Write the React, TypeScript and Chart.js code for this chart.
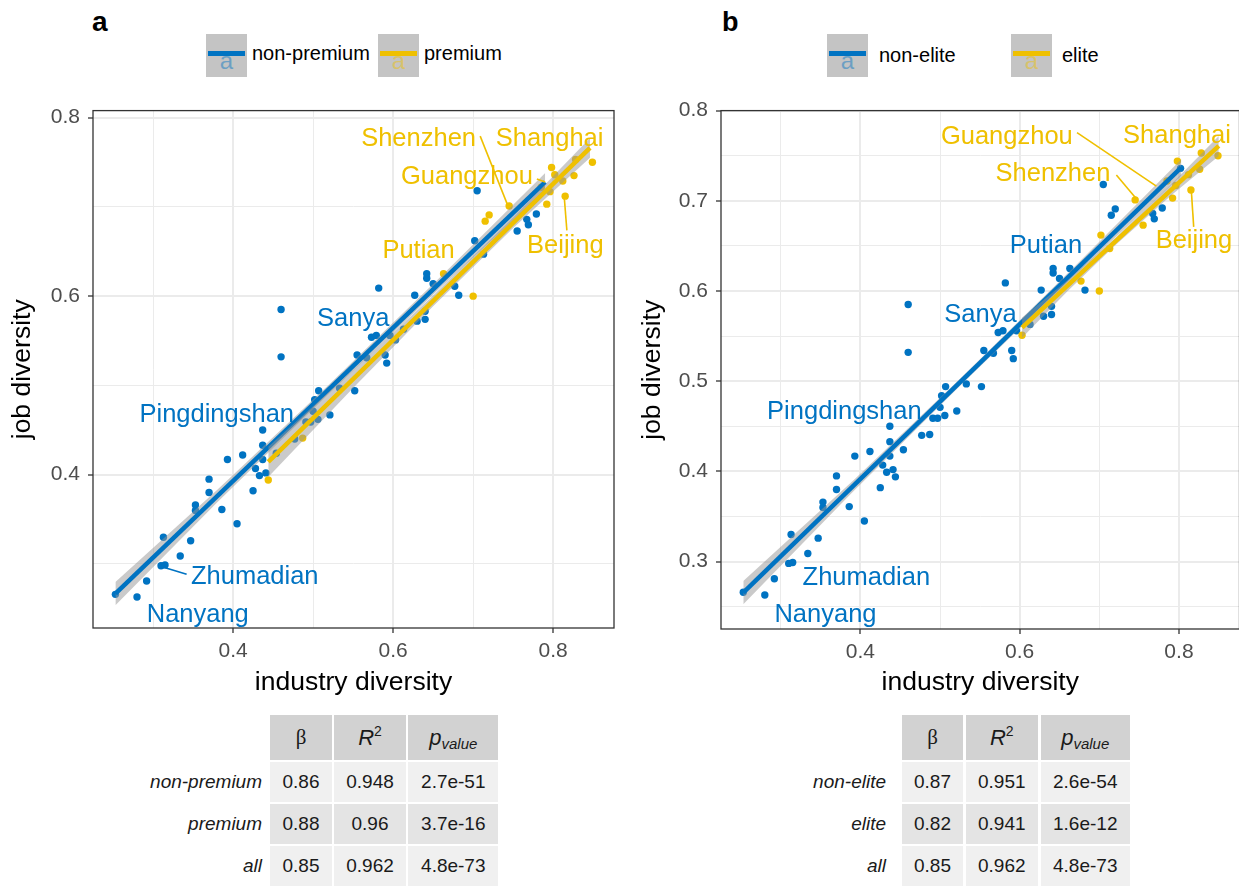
import React, { useEffect, useRef } from "react";
import { Chart, registerables } from "chart.js";

Chart.register(...registerables);

const FONT = '"Liberation Sans", Arial, Helvetica, sans-serif';
const BLUE = "#0073C2";
const YELLOW = "#EFC000";
const BAND = "rgba(150,150,150,0.5)";

// ---------------- data: one entry per city ----------------
const industryDiversity = [
  0.253, 0.280, 0.292, 0.313, 0.310, 0.315, 0.334, 0.347, 0.353, 0.353,
  0.370, 0.370, 0.386, 0.393, 0.405, 0.412, 0.425, 0.428, 0.433, 0.437,
  0.437, 0.437, 0.441, 0.444, 0.454, 0.477, 0.487, 0.491, 0.497, 0.506,
  0.500, 0.502, 0.507, 0.521, 0.533, 0.552, 0.460, 0.460, 0.555, 0.567,
  0.573, 0.579, 0.590, 0.592, 0.582, 0.596, 0.603, 0.613, 0.627, 0.630,
  0.640, 0.640, 0.642, 0.642, 0.650, 0.663, 0.677, 0.682, 0.700, 0.702,
  0.705, 0.713, 0.715, 0.720, 0.745, 0.755, 0.767, 0.769, 0.779, 0.792,
  0.798, 0.802, 0.815, 0.812, 0.826, 0.828, 0.849, 0.796, 0.785,
];
const jobDiversity = [
  0.266, 0.263, 0.281, 0.330, 0.298, 0.299, 0.309, 0.326, 0.366, 0.360,
  0.395, 0.380, 0.361, 0.417, 0.345, 0.422, 0.382, 0.407, 0.399, 0.450,
  0.433, 0.417, 0.402, 0.394, 0.424, 0.440, 0.441, 0.459, 0.459, 0.462,
  0.471, 0.484, 0.494, 0.467, 0.497, 0.494, 0.585, 0.532, 0.534, 0.531,
  0.554, 0.556, 0.534, 0.525, 0.609, 0.556, 0.551, 0.563, 0.601, 0.572,
  0.574, 0.583, 0.620, 0.625, 0.614, 0.625, 0.611, 0.601, 0.600, 0.662,
  0.718, 0.647, 0.684, 0.691, 0.701, 0.673, 0.686, 0.680, 0.692, 0.703,
  0.744, 0.736, 0.712, 0.729, 0.735, 0.753, 0.750, 0.717, 0.722,
];
const isPremium = [
  0, 0, 0, 0, 0, 0, 0, 0, 0, 0,
  0, 0, 0, 0, 0, 0, 0, 0, 0, 0,
  0, 0, 0, 1, 0, 0, 1, 0, 0, 0,
  0, 0, 0, 0, 0, 0, 0, 0, 0, 0,
  0, 0, 0, 0, 0, 0, 0, 0, 0, 0,
  0, 0, 0, 0, 0, 1, 0, 0, 1, 0,
  0, 0, 1, 1, 1, 0, 0, 0, 0, 1,
  1, 1, 1, 1, 1, 1, 1, 1, 1,
];
const isElite = [
  0, 0, 0, 0, 0, 0, 0, 0, 0, 0,
  0, 0, 0, 0, 0, 0, 0, 0, 0, 0,
  0, 0, 0, 0, 0, 0, 0, 0, 0, 0,
  0, 0, 0, 0, 0, 0, 0, 0, 0, 0,
  0, 0, 0, 0, 0, 0, 1, 0, 0, 0,
  0, 0, 0, 0, 0, 0, 1, 0, 1, 1,
  0, 1, 0, 0, 1, 1, 0, 0, 0, 1,
  1, 0, 1, 1, 1, 1, 1, 1, 1,
];

// ---------------- axes ----------------
const xTicksMajor = [0.4, 0.6, 0.8];
const xTicksMinor = [0.3, 0.5, 0.7];
const aYTicksMajor = [0.4, 0.6, 0.8];
const aYTicksMinor = [0.3, 0.5, 0.7];
const bYTicksMajor = [0.3, 0.4, 0.5, 0.6, 0.7, 0.8];
const bYTicksMinor = [0.25, 0.35, 0.45, 0.55, 0.65, 0.75];

// ---------------- fitted lines and confidence bands ----------------
const aBlueFitX = [0.253, 0.79];
const aBlueFitY = [0.2667, 0.7278];
const aBlueBandX = [0.253, 0.38, 0.52, 0.66, 0.79];
const aBlueBandLo = [0.2537, 0.3688, 0.491, 0.6102, 0.7178];
const aBlueBandHi = [0.2797, 0.3828, 0.501, 0.6222, 0.7378];

const aYellowFitX = [0.444, 0.846];
const aYellowFitY = [0.4144, 0.766];
const aYellowBandX = [0.444, 0.55, 0.65, 0.75, 0.846];
const aYellowBandLo = [0.3974, 0.4972, 0.5887, 0.6762, 0.755];
const aYellowBandHi = [0.4314, 0.5172, 0.6007, 0.6882, 0.777];

const bBlueFitX = [0.253, 0.803];
const bBlueFitY = [0.2656, 0.737];
const bBlueBandX = [0.253, 0.39, 0.53, 0.67, 0.803];
const bBlueBandLo = [0.2526, 0.377, 0.499, 0.618, 0.728];
const bBlueBandHi = [0.2786, 0.389, 0.507, 0.628, 0.746];

const bYellowFitX = [0.603, 0.85];
const bYellowFitY = [0.5593, 0.7608];
const bYellowBandX = [0.603, 0.66, 0.72, 0.79, 0.85];
const bYellowBandLo = [0.5483, 0.5998, 0.6508, 0.706, 0.7498];
const bYellowBandHi = [0.5703, 0.6118, 0.6588, 0.718, 0.7718];

// ---------------- city labels ----------------
const aLabelNames = ["Shenzhen", "Shanghai", "Guangzhou", "Putian", "Beijing", "Sanya", "Pingdingshan", "Zhumadian", "Nanyang"];
const aLabelX = [0.6318, 0.7955, 0.6922, 0.6318, 0.8152, 0.5501, 0.3796, 0.4271, 0.3559];
const aLabelY = [0.7787, 0.7787, 0.7358, 0.6526, 0.6581, 0.5763, 0.4689, 0.2881, 0.2455];
const aLabelGroup = [1, 1, 1, 1, 1, 0, 0, 0, 0];
const aLeaders = [
  [0.7088, 0.7792, 0.7441, 0.6997, 1],
  [0.7796, 0.7311, 0.79, 0.7278, 1],
  [0.8171, 0.6737, 0.8138, 0.7114, 1],
  [0.342, 0.2886, 0.311, 0.297, 0],
];

const bLabelNames = ["Guangzhou", "Shanghai", "Shenzhen", "Putian", "Beijing", "Sanya", "Pingdingshan", "Zhumadian", "Nanyang"];
const bLabelX = [0.5839, 0.7975, 0.6418, 0.633, 0.8188, 0.5508, 0.3799, 0.4075, 0.3562];
const bLabelY = [0.7733, 0.7745, 0.7324, 0.6524, 0.6577, 0.5758, 0.4681, 0.2843, 0.2429];
const bLabelGroup = [1, 1, 1, 0, 1, 0, 0, 0, 0];
const bLeaders = [
  [0.672, 0.7755, 0.7716, 0.7162, 1],
  [0.7214, 0.7286, 0.7465, 0.7022, 1],
  [0.8185, 0.6711, 0.8155, 0.7113, 1],
];

// ---------------- tables ----------------
const aRowNames = ["non-premium", "premium", "all"];
const aBeta = ["0.86", "0.88", "0.85"];
const aR2 = ["0.948", "0.96", "0.962"];
const aP = ["2.7e-51", "3.7e-16", "4.8e-73"];
const bRowNames = ["non-elite", "elite", "all"];
const bBeta = ["0.87", "0.82", "0.85"];
const bR2 = ["0.951", "0.941", "0.962"];
const bP = ["2.6e-54", "1.6e-12", "4.8e-73"];

// ---------------- helpers ----------------
const pts = (xs: number[], ys: number[]) => xs.map((x, i) => ({ x, y: ys[i] }));
const pick = (flags: number[], want: number) => {
  const xs: number[] = [];
  const ys: number[] = [];
  flags.forEach((f, i) => {
    if (f === want) {
      xs.push(industryDiversity[i]);
      ys.push(jobDiversity[i]);
    }
  });
  return pts(xs, ys);
};
const has = (arr: number[], v: number) => arr.some((m) => Math.abs(m - v) < 1e-6);

type Spec = {
  flags: number[];
  yMin: number;
  yMax: number;
  yMajor: number[];
  yMinor: number[];
  blue: { fx: number[]; fy: number[]; bx: number[]; lo: number[]; hi: number[] };
  yellow: { fx: number[]; fy: number[]; bx: number[]; lo: number[]; hi: number[] };
  names: string[];
  lx: number[];
  ly: number[];
  lg: number[];
  leaders: number[][];
  left: number;
  top: number;
  w: number;
  h: number;
  yAxisW: number;
  xAxisH: number;
  padRight: number;
};

function buildConfig(s: Spec): any {
  const xTicks = [...xTicksMajor, ...xTicksMinor].sort((a, b) => a - b);
  const yTicks = [...s.yMajor, ...s.yMinor].sort((a, b) => a - b);
  const LABEL_SIZE = 25.5;
  const annotate = {
    id: "annotate",
    afterDatasetsDraw(chart: any) {
      const { ctx, chartArea: ca } = chart;
      const xs = chart.scales.x;
      const ys = chart.scales.y;
      ctx.save();
      ctx.lineWidth = 1.6;
      s.leaders.forEach((l) => {
        ctx.strokeStyle = l[4] ? YELLOW : BLUE;
        ctx.beginPath();
        ctx.moveTo(xs.getPixelForValue(l[0]), ys.getPixelForValue(l[1]));
        ctx.lineTo(xs.getPixelForValue(l[2]), ys.getPixelForValue(l[3]));
        ctx.stroke();
      });
      ctx.font = `${LABEL_SIZE}px ${FONT}`;
      ctx.textAlign = "center";
      ctx.textBaseline = "alphabetic";
      s.names.forEach((n, i) => {
        ctx.fillStyle = s.lg[i] ? YELLOW : BLUE;
        ctx.fillText(n, xs.getPixelForValue(s.lx[i]), ys.getPixelForValue(s.ly[i]) + 0.358 * LABEL_SIZE);
      });
      ctx.strokeStyle = "#333333";
      ctx.lineWidth = 1.3;
      ctx.strokeRect(ca.left, ca.top, ca.right - ca.left, ca.bottom - ca.top);
      ctx.restore();
    },
  };
  const tickFont = { family: FONT, size: 21 };
  const titleFont = { family: FONT, size: 26.5 };
  const gridFor = (majors: number[]) => ({
    color: "#EBEBEB",
    lineWidth: (c: any) => (c.tick && has(majors, c.tick.value) ? 2 : 1),
    drawTicks: true,
    tickLength: 5,
    tickWidth: 1.3,
    tickColor: (c: any) => (c.tick && has(majors, c.tick.value) ? "#333333" : "rgba(0,0,0,0)"),
  });
  return {
    type: "scatter",
    data: {
      datasets: [
        { type: "scatter", data: pick(s.flags, 0), backgroundColor: BLUE, borderColor: BLUE, pointRadius: 3.7, borderWidth: 0, order: 21 },
        { type: "scatter", data: pick(s.flags, 1), backgroundColor: YELLOW, borderColor: YELLOW, pointRadius: 3.7, borderWidth: 0, order: 20 },
        { type: "line", data: pts(s.blue.bx, s.blue.lo), borderColor: "rgba(0,0,0,0)", borderWidth: 0, pointRadius: 0, fill: false, order: 15 },
        { type: "line", data: pts(s.blue.bx, s.blue.hi), borderColor: "rgba(0,0,0,0)", borderWidth: 0, pointRadius: 0, fill: 2, backgroundColor: BAND, order: 14 },
        { type: "line", data: pts(s.blue.fx, s.blue.fy), borderColor: BLUE, borderWidth: 4.5, pointRadius: 0, fill: false, order: 13 },
        { type: "line", data: pts(s.yellow.bx, s.yellow.lo), borderColor: "rgba(0,0,0,0)", borderWidth: 0, pointRadius: 0, fill: false, order: 12 },
        { type: "line", data: pts(s.yellow.bx, s.yellow.hi), borderColor: "rgba(0,0,0,0)", borderWidth: 0, pointRadius: 0, fill: 5, backgroundColor: BAND, order: 11 },
        { type: "line", data: pts(s.yellow.fx, s.yellow.fy), borderColor: YELLOW, borderWidth: 4.5, pointRadius: 0, fill: false, order: 10 },
      ],
    },
    options: {
      animation: false,
      responsive: false,
      maintainAspectRatio: false,
      events: [],
      layout: { padding: { top: 16, right: s.padRight, left: 0, bottom: 0 } },
      plugins: { legend: { display: false }, tooltip: { enabled: false } },
      scales: {
        x: {
          type: "linear",
          position: "bottom",
          min: 0.225,
          max: 0.876,
          afterBuildTicks: (sc: any) => {
            sc.ticks = xTicks.map((v) => ({ value: v }));
          },
          afterFit: (sc: any) => {
            sc.height = s.xAxisH;
          },
          ticks: {
            autoSkip: false,
            maxRotation: 0,
            padding: 6,
            font: tickFont,
            color: "#4D4D4D",
            callback: (v: number) => (has(xTicksMajor, v) ? v.toFixed(1) : ""),
          },
          grid: gridFor(xTicksMajor),
          border: { display: false },
          title: { display: true, text: "industry diversity", font: titleFont, color: "#000000", padding: { top: 0, bottom: 11 } },
        },
        y: {
          type: "linear",
          position: "left",
          min: s.yMin,
          max: s.yMax,
          afterBuildTicks: (sc: any) => {
            sc.ticks = yTicks.map((v) => ({ value: v }));
          },
          afterFit: (sc: any) => {
            sc.width = s.yAxisW;
          },
          ticks: {
            autoSkip: false,
            padding: 8,
            font: tickFont,
            color: "#4D4D4D",
            callback: (v: number) => (has(s.yMajor, v) ? v.toFixed(1) : ""),
          },
          grid: gridFor(s.yMajor),
          border: { display: false },
          title: { display: true, text: "job diversity", font: titleFont, color: "#000000", padding: { top: 7, bottom: 0 } },
        },
      },
    },
    plugins: [annotate],
  };
}

function Panel({ spec }: { spec: Spec }) {
  const ref = useRef<HTMLCanvasElement>(null);
  useEffect(() => {
    const chart = new Chart(ref.current as HTMLCanvasElement, buildConfig(spec));
    return () => chart.destroy();
  }, []);
  return (
    <canvas
      ref={ref}
      width={spec.w}
      height={spec.h}
      style={{ position: "absolute", left: spec.left, top: spec.top, width: spec.w, height: spec.h }}
    />
  );
}

function LegendKey({ x, color }: { x: number; color: string }) {
  return (
    <div style={{ position: "absolute", left: x, top: 34, width: 41, height: 43, background: "#C4C4C4", overflow: "hidden" }}>
      <div
        style={{
          position: "absolute",
          left: 0,
          width: 41,
          top: 15,
          textAlign: "center",
          fontFamily: FONT,
          fontSize: 24,
          lineHeight: "24px",
          color,
          opacity: 0.45,
        }}
      >
        a
      </div>
      <div style={{ position: "absolute", left: 2, width: 37, top: 17, height: 5, background: color }} />
    </div>
  );
}

function LegendText({ x, top, text }: { x: number; top: number; text: string }) {
  return (
    <div style={{ position: "absolute", left: x, top, fontFamily: FONT, fontSize: 20, lineHeight: "20px", color: "#000", whiteSpace: "nowrap" }}>
      {text}
    </div>
  );
}

type TableProps = {
  cols: number[][];
  labelRight: number;
  names: string[];
  beta: string[];
  r2: string[];
  p: string[];
};

function StatsTable({ cols, labelRight, names, beta, r2, p }: TableProps) {
  const headTop = 715;
  const headH = 45;
  const rowTops = [762, 804, 846];
  const rowH = 40;
  const rowBg = ["#F0F0F0", "#E4E4E4", "#F0F0F0"];
  const cell = (x: number, y: number, w: number, h: number, bg: string, content: any, key: string) => (
    <div
      key={key}
      style={{
        position: "absolute",
        left: x,
        top: y,
        width: w,
        height: h,
        background: bg,
        display: "flex",
        alignItems: "center",
        justifyContent: "center",
        fontFamily: FONT,
        fontSize: 19,
        color: "#1A1A1A",
        whiteSpace: "nowrap",
      }}
    >
      {content}
    </div>
  );
  const heads = [
    <span style={{ fontFamily: '"Liberation Serif", "DejaVu Serif", serif', fontSize: 21 }}>β</span>,
    <span style={{ fontSize: 22 }}>
      <i>R</i>
      <span style={{ fontSize: 14, position: "relative", top: -9 }}>2</span>
    </span>,
    <span style={{ fontSize: 22, fontStyle: "italic" }}>
      p<span style={{ fontSize: 15, position: "relative", top: 4 }}>value</span>
    </span>,
  ];
  const vals = [beta, r2, p];
  const out: any[] = [];
  cols.forEach((c, j) => out.push(cell(c[0], headTop, c[1], headH, "#D2D2D2", heads[j], `h${j}`)));
  rowTops.forEach((t, i) => {
    out.push(
      <div
        key={`n${i}`}
        style={{
          position: "absolute",
          left: labelRight - 200,
          width: 200,
          top: t,
          height: rowH,
          display: "flex",
          alignItems: "center",
          justifyContent: "flex-end",
          fontFamily: FONT,
          fontSize: 19,
          fontStyle: "italic",
          color: "#1A1A1A",
        }}
      >
        {names[i]}
      </div>
    );
    cols.forEach((c, j) => out.push(cell(c[0], t, c[1], rowH, rowBg[i], vals[j][i], `c${i}${j}`)));
  });
  return <>{out}</>;
}

const specA: Spec = {
  flags: isPremium,
  yMin: 0.2283,
  yMax: 0.8078,
  yMajor: aYTicksMajor,
  yMinor: aYTicksMinor,
  blue: { fx: aBlueFitX, fy: aBlueFitY, bx: aBlueBandX, lo: aBlueBandLo, hi: aBlueBandHi },
  yellow: { fx: aYellowFitX, fy: aYellowFitY, bx: aYellowBandX, lo: aYellowBandLo, hi: aYellowBandHi },
  names: aLabelNames,
  lx: aLabelX,
  ly: aLabelY,
  lg: aLabelGroup,
  leaders: aLeaders,
  left: 0,
  top: 90,
  w: 640,
  h: 620,
  yAxisW: 93,
  xAxisH: 82,
  padRight: 26,
};

const specB: Spec = {
  flags: isElite,
  yMin: 0.2253,
  yMax: 0.8,
  yMajor: bYTicksMajor,
  yMinor: bYTicksMinor,
  blue: { fx: bBlueFitX, fy: bBlueFitY, bx: bBlueBandX, lo: bBlueBandLo, hi: bBlueBandHi },
  yellow: { fx: bYellowFitX, fy: bYellowFitY, bx: bYellowBandX, lo: bYellowBandLo, hi: bYellowBandHi },
  names: bLabelNames,
  lx: bLabelX,
  ly: bLabelY,
  lg: bLabelGroup,
  leaders: bLeaders,
  left: 630,
  top: 90,
  w: 640,
  h: 620,
  yAxisW: 91,
  xAxisH: 81,
  padRight: 30.5,
};

export default function App() {
  return (
    <div style={{ position: "absolute", left: 0, top: 0, width: 1239, height: 888, overflow: "hidden", background: "#FFFFFF" }}>
      <div style={{ position: "absolute", left: 92, top: 8, fontFamily: FONT, fontWeight: "bold", fontSize: 28, lineHeight: "28px" }}>a</div>
      <div style={{ position: "absolute", left: 722, top: 9, fontFamily: FONT, fontWeight: "bold", fontSize: 27, lineHeight: "27px" }}>b</div>

      <LegendKey x={206} color={BLUE} />
      <LegendText x={252} top={43} text="non-premium" />
      <LegendKey x={378} color={YELLOW} />
      <LegendText x={424} top={43} text="premium" />

      <LegendKey x={827} color={BLUE} />
      <LegendText x={879} top={45} text="non-elite" />
      <LegendKey x={1011} color={YELLOW} />
      <LegendText x={1062} top={45} text="elite" />

      <Panel spec={specA} />
      <Panel spec={specB} />

      <StatsTable cols={[[270, 62], [334, 72], [408.3, 90]]} labelRight={262} names={aRowNames} beta={aBeta} r2={aR2} p={aP} />
      <StatsTable cols={[[902, 61], [965.5, 72.5], [1040.5, 89.5]]} labelRight={886} names={bRowNames} beta={bBeta} r2={bR2} p={bP} />
    </div>
  );
}
